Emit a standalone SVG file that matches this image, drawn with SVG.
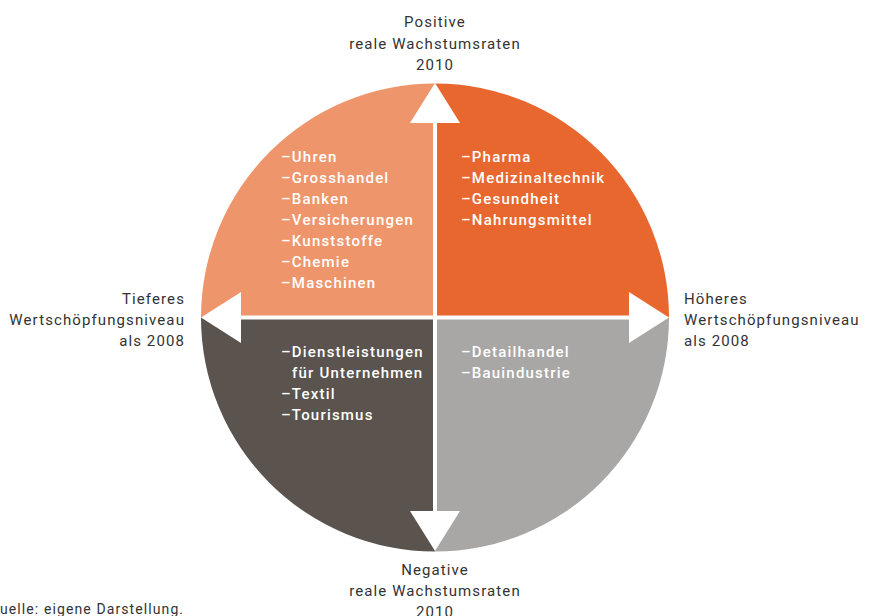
<svg xmlns="http://www.w3.org/2000/svg" width="872" height="616" viewBox="0 0 872 616">
<style>
.q{font-family:Roboto,"Liberation Sans",sans-serif;font-size:15px;font-weight:500;fill:#fff;letter-spacing:1.2px}
.l{font-family:Roboto,"Liberation Sans",sans-serif;font-size:15px;fill:#333;letter-spacing:1.1px}
.s{font-family:Roboto,"Liberation Sans",sans-serif;font-size:14px;fill:#333;letter-spacing:1.1px}
</style>
<rect width="872" height="616" fill="#fff"/>
<g id="q-tl"><path d="M435,317.5 L201,317.5 A234,234 0 0 1 435,83.5 Z" fill="#EF956B"/>
<text class="q"><tspan x="281" y="162">–Uhren</tspan><tspan x="281" y="183">–Grosshandel</tspan><tspan x="281" y="204">–Banken</tspan><tspan x="281" y="225">–Versicherungen</tspan><tspan x="281" y="246">–Kunststoffe</tspan><tspan x="281" y="267">–Chemie</tspan><tspan x="281" y="288">–Maschinen</tspan></text></g>
<g id="q-tr"><path d="M435,317.5 L435,83.5 A234,234 0 0 1 669,317.5 Z" fill="#E8672E"/>
<text class="q"><tspan x="461" y="162">–Pharma</tspan><tspan x="461" y="183">–Medizinaltechnik</tspan><tspan x="461" y="204">–Gesundheit</tspan><tspan x="461" y="225">–Nahrungsmittel</tspan></text></g>
<g id="q-bl"><path d="M435,317.5 L435,551.5 A234,234 0 0 1 201,317.5 Z" fill="#5A534E"/>
<text class="q"><tspan x="281" y="357">–Dienstleistungen</tspan><tspan x="292" y="378">für Unternehmen</tspan><tspan x="281" y="399">–Textil</tspan><tspan x="281" y="420">–Tourismus</tspan></text></g>
<g id="q-br"><path d="M435,317.5 L669,317.5 A234,234 0 0 1 435,551.5 Z" fill="#A8A7A5"/>
<text class="q"><tspan x="461" y="357">–Detailhandel</tspan><tspan x="461" y="378">–Bauindustrie</tspan></text></g>
<g id="connectors" fill="#fff">
<rect x="433" y="110" width="4" height="410"/>
<rect x="225" y="315.5" width="420" height="4"/>
<polygon points="435,83 410,123 460,123"/>
<polygon points="435,551 410,511 460,511"/>
<polygon points="201,317.5 241,292 241,343"/>
<polygon points="669,317.5 629,292 629,343"/>
</g>
<g id="label-top"><text class="l" text-anchor="middle"><tspan x="435" y="27">Positive</tspan><tspan x="435" y="49">reale Wachstumsraten</tspan><tspan x="435" y="70">2010</tspan></text></g>
<g id="label-bottom"><text class="l" text-anchor="middle"><tspan x="435" y="575">Negative</tspan><tspan x="435" y="596">reale Wachstumsraten</tspan><tspan x="435" y="617">2010</tspan></text></g>
<g id="label-left"><text class="l" text-anchor="end"><tspan x="185" y="304">Tieferes</tspan><tspan x="185" y="325">Wertschöpfungsniveau</tspan><tspan x="185" y="346">als 2008</tspan></text></g>
<g id="label-right"><text class="l"><tspan x="684" y="304">Höheres</tspan><tspan x="684" y="325">Wertschöpfungsniveau</tspan><tspan x="684" y="346">als 2008</tspan></text></g>
<text class="s" x="0" y="614">uelle: eigene Darstellung.</text>
</svg>
